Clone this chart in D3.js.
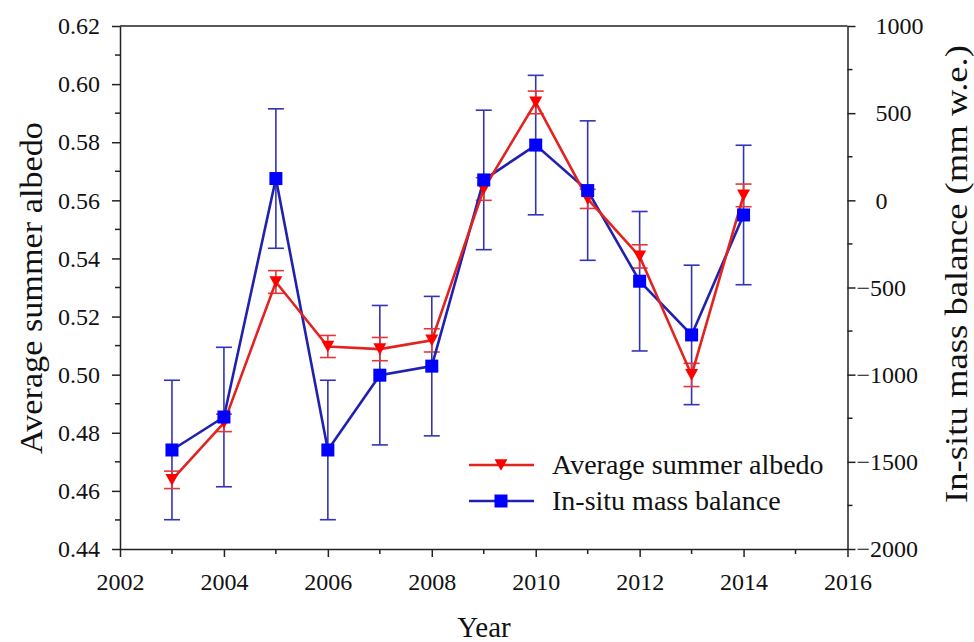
<!DOCTYPE html>
<html><head><meta charset="utf-8">
<script src="https://cdn.jsdelivr.net/npm/d3@7"></script>
<style>
html,body{margin:0;padding:0;background:#fff;}
</style></head>
<body><svg id="c" width="974" height="642"></svg>
<script>
const years = [2003,2004,2005,2006,2007,2008,2009,2010,2011,2012,2013,2014];
const albedo = [0.4638,0.4834,0.5319,0.5097,0.5088,0.5118,0.5639,0.5937,0.5605,0.5407,0.4999,0.5617];
const albedoErr = [0.003,0.003,0.0039,0.0038,0.004,0.004,0.0039,0.0039,0.0033,0.004,0.004,0.0039];
const massBalance = [-1432,-1243,125,-1432,-1003,-951,117,317,56,-464,-772,-84];
const massErr = [400,400,400,400,400,400,400,400,400,400,400,400];
const xTicks = [2002,2004,2006,2008,2010,2012,2014,2016];
const leftTicks = [0.44,0.46,0.48,0.50,0.52,0.54,0.56,0.58,0.60,0.62];
const rightTicks = [-2000,-1500,-1000,-500,0,500,1000];
const seriesNames = ["Average summer albedo","In-situ mass balance"];

const FONT = "'Liberation Serif', 'Times New Roman', serif";
const svg = d3.select("#c");
const L=120, R=847.5, T=26, B=549;
const x = d3.scaleLinear().domain([2002,2016]).range([L,R]);
const yL = d3.scaleLinear().domain([0.44,0.62]).range([B,T]);
const yR = d3.scaleLinear().domain([-2000,1000]).range([B,T]);

const redLine="#e3231f", redMk="#ff0000", redErr="#e0383a";
const blueLine="#2121b0", blueMk="#0000ff", blueErr="#3333b8";
const axisCol="#222";

svg.append("line").attr("x1",L).attr("x2",R).attr("y1",T).attr("y2",T).attr("stroke",axisCol).attr("stroke-width",1.5);

function styleAxis(g){
  g.attr("font-family",null).attr("font-size",null);
  g.select(".domain").attr("stroke",axisCol).attr("stroke-width",1.5);
  g.selectAll(".tick line").attr("stroke",axisCol).attr("stroke-width",1.5);
  g.selectAll("text").style("font-size","24px").style("font-family",FONT).attr("fill","#111");
}
function minor(g, scale, vals, orient){
  vals.forEach(v=>{
    const p = scale(v);
    if(orient==="left") g.append("line").attr("x1",L-5).attr("x2",L).attr("y1",p).attr("y2",p);
    if(orient==="right") g.append("line").attr("x1",R).attr("x2",R+5).attr("y1",p).attr("y2",p);
    if(orient==="bottom") g.append("line").attr("x1",p).attr("x2",p).attr("y1",B).attr("y2",B+5);
  });
  g.selectAll("line").attr("stroke",axisCol).attr("stroke-width",1.5);
}
const minorG = svg.append("g");
minor(minorG.append("g"), yL, d3.range(0.45,0.62,0.02), "left");
minor(minorG.append("g"), yR, d3.range(-1750,1000,500), "right");
minor(minorG.append("g"), x, d3.range(2003,2016,2), "bottom");

const gx = svg.append("g").attr("transform",`translate(0,${B})`)
  .call(d3.axisBottom(x).tickValues(xTicks).tickFormat(d3.format("d")).tickSize(8).tickSizeOuter(0).tickPadding(16));
styleAxis(gx);
const gl = svg.append("g").attr("transform",`translate(${L},0)`)
  .call(d3.axisLeft(yL).tickValues(leftTicks).tickFormat(d3.format(".2f")).tickSize(8).tickSizeOuter(0).tickPadding(12));
styleAxis(gl);
const gr = svg.append("g").attr("transform",`translate(${R},0)`)
  .call(d3.axisRight(yR).tickValues(rightTicks).tickFormat(d=>d<0?"\u2212"+Math.abs(d):String(d)).tickSize(8).tickSizeOuter(0).tickPadding(10));
styleAxis(gr);
gr.selectAll(".tick text").attr("x",d=>d<0?9:28);

function title(sel, size){ return sel.style("font-family",FONT).style("font-size",size+"px").attr("fill","#111"); }
title(svg.append("text").attr("x",484).attr("y",637).attr("text-anchor","middle"),29).text("Year");
title(svg.append("text").attr("transform",`translate(42,288) rotate(-90)`).attr("text-anchor","middle")
  .attr("textLength",332).attr("lengthAdjust","spacingAndGlyphs"),31).text("Average summer albedo");
title(svg.append("text").attr("transform",`translate(967,274) rotate(-90)`).attr("text-anchor","middle")
  .attr("textLength",458).attr("lengthAdjust","spacingAndGlyphs"),31).text("In-situ mass balance (mm w.e.)");

const capW=8;
function errBars(vals, errs, ys, col){
  const g = svg.append("g").attr("stroke",col).attr("stroke-width",1.6);
  years.forEach((yr,i)=>{
    const cx=x(yr), y1=ys(vals[i]+errs[i]), y2=ys(vals[i]-errs[i]);
    g.append("line").attr("x1",cx).attr("x2",cx).attr("y1",y1).attr("y2",y2);
    g.append("line").attr("x1",cx-capW).attr("x2",cx+capW).attr("y1",y1).attr("y2",y1);
    g.append("line").attr("x1",cx-capW).attr("x2",cx+capW).attr("y1",y2).attr("y2",y2);
  });
}
errBars(massBalance, massErr, yR, blueErr);
errBars(albedo, albedoErr, yL, redErr);

const lineR = d3.line().x((d,i)=>x(years[i])).y(d=>yL(d));
const lineB = d3.line().x((d,i)=>x(years[i])).y(d=>yR(d));
svg.append("path").attr("d",lineB(massBalance)).attr("fill","none").attr("stroke",blueLine).attr("stroke-width",2.6);
svg.append("path").attr("d",lineR(albedo)).attr("fill","none").attr("stroke",redLine).attr("stroke-width",2.6);

function tri(cx,cy,s){
  const h=s*0.9;
  return `M${cx-s/2},${cy-h/2}L${cx+s/2},${cy-h/2}L${cx},${cy+h/2}Z`;
}
svg.append("g").selectAll("path").data(albedo).join("path")
  .attr("d",(d,i)=>tri(x(years[i]),yL(d),13)).attr("fill",redMk);
svg.append("g").selectAll("rect").data(massBalance).join("rect")
  .attr("x",(d,i)=>x(years[i])-6.5).attr("y",d=>yR(d)-6.5).attr("width",13).attr("height",13).attr("fill",blueMk);

const lg = svg.append("g");
const lx1=469, lx2=534, lmx=501;
[[465,redLine,redMk,"tri"],[501,blueLine,blueMk,"sq"]].forEach((r,i)=>{
  lg.append("line").attr("x1",lx1).attr("x2",lx2).attr("y1",r[0]).attr("y2",r[0]).attr("stroke",r[1]).attr("stroke-width",2.6);
  if(r[3]==="tri") lg.append("path").attr("d",tri(lmx,r[0],13)).attr("fill",r[2]);
  else lg.append("rect").attr("x",lmx-6.5).attr("y",r[0]-6.5).attr("width",13).attr("height",13).attr("fill",r[2]);
  title(lg.append("text").attr("x",552).attr("y",r[0]+9),28).text(seriesNames[i]);
});
</script></body></html>
